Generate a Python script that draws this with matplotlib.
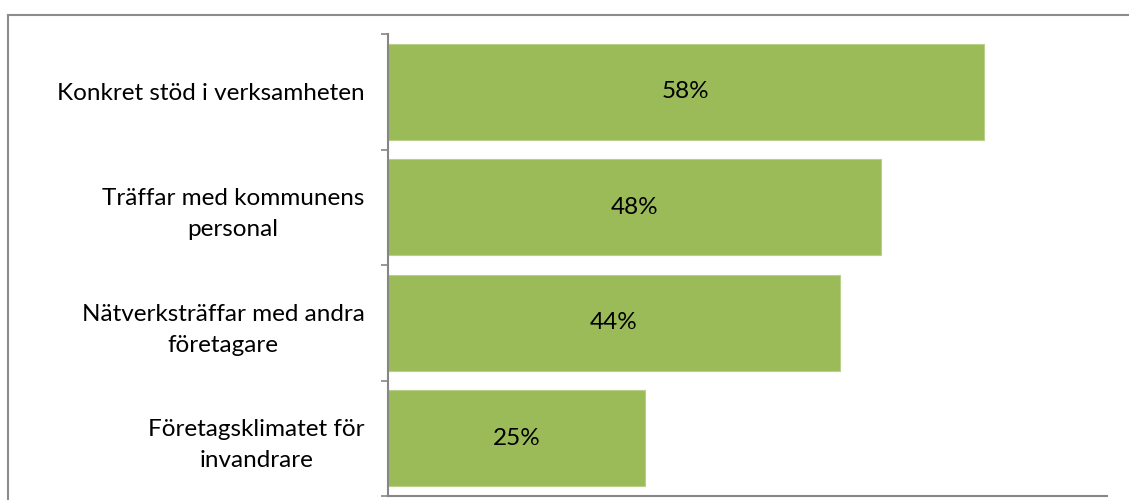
import matplotlib.pyplot as plt
from matplotlib.lines import Line2D

categories = ['Konkret stöd i verksamheten',
              'Träffar med kommunens\npersonal',
              'Nätverksträffar med andra\nföretagare',
              'Företagsklimatet för\ninvandrare']
values = [58, 48, 44, 25]

plt.rcParams['font.family'] = ['Lato', 'DejaVu Sans']

fig = plt.figure(figsize=(11.29, 5.0), dpi=100)
ax = fig.add_axes([388 / 1129, 4 / 500, (1107 - 388) / 1129, (496 - 34) / 500])

pos = list(range(len(categories)))
bars = ax.barh(pos, values, height=0.83, color='#9bbb59',
               edgecolor='#b9cf8a', linewidth=0.8)
for b, v in zip(bars, values):
    ax.text(b.get_width() / 2, b.get_y() + b.get_height() / 2, f'{v}%',
            ha='center', va='center', fontsize=17.5, color='black')

ax.set_xlim(0, 70)
ax.set_ylim(len(categories) - 0.5, -0.5)
ax.set_yticks(pos)
ax.set_yticklabels(categories, fontsize=17.5)
for lab in ax.get_yticklabels():
    lab.set_multialignment('center')
    lab.set_linespacing(1.6)
ax.set_yticks([p - 0.5 for p in pos] + [len(pos) - 0.5], minor=True)
ax.tick_params(axis='y', which='major', length=0, pad=17)
ax.tick_params(axis='y', which='minor', length=5, width=1.2, color='#868686')
ax.set_xticks([])

for s in ['top', 'right']:
    ax.spines[s].set_visible(False)
for s in ['left', 'bottom']:
    ax.spines[s].set_color('#868686')
    ax.spines[s].set_linewidth(1.5)

# chart frame
fx = 8 / 1129
fy = 1 - 15 / 500
fig.add_artist(Line2D([fx, 1], [fy, fy], color='#8c8c8c', lw=1.5))
fig.add_artist(Line2D([fx, fx], [0, fy], color='#8c8c8c', lw=1.5))

fig.savefig('out.png', dpi=100)
